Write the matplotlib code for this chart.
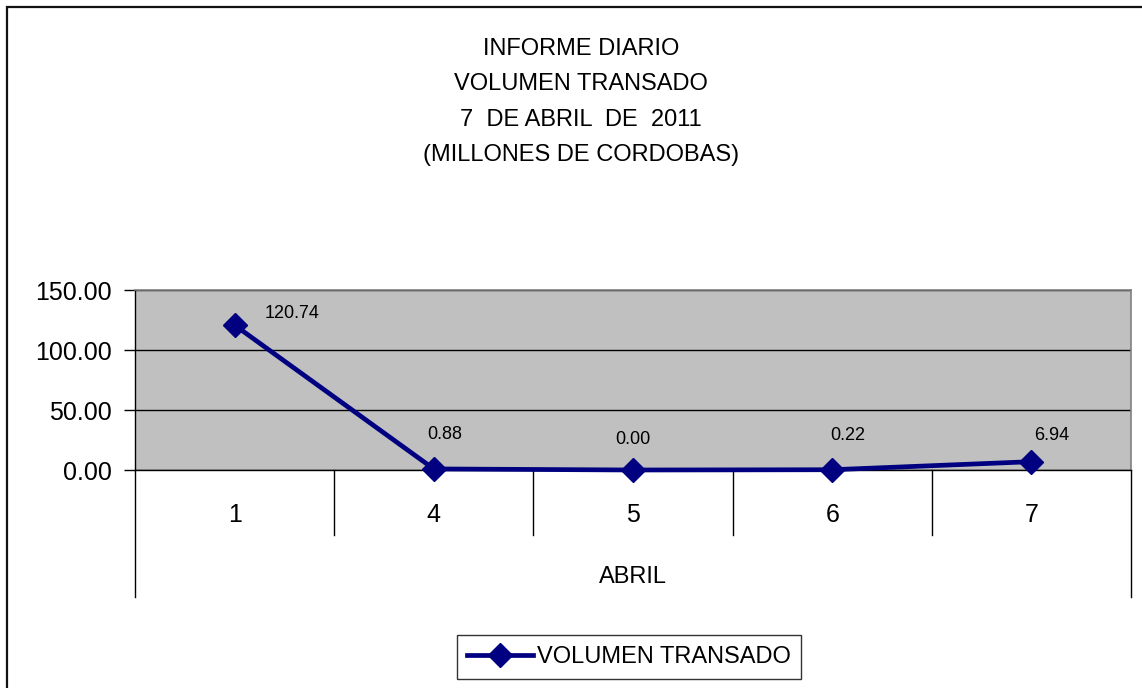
import matplotlib.pyplot as plt
import matplotlib.transforms as mtransforms
from matplotlib.patches import Rectangle

plt.rcParams['font.family'] = ['Liberation Sans', 'DejaVu Sans']

# data
dias = ['1', '4', '5', '6', '7']
volumen = [120.74, 0.88, 0.00, 0.22, 6.94]
mes = 'ABRIL'
serie = 'VOLUMEN TRANSADO'
titulo = 'INFORME DIARIO\nVOLUMEN TRANSADO\n7  DE ABRIL  DE  2011\n(MILLONES DE CORDOBAS)'
# pixel offsets of the value labels (as placed in the original)
label_offsets = [(57, 12), (11, 34), (0, 31), (16, 34), (20, 26)]

navy = '#000080'

fig = plt.figure(figsize=(11.42, 6.88), dpi=100)
fig.patch.set_facecolor('white')

# outer frame of the chart
fig.add_artist(Rectangle((7 / 1142, -0.05), 1.1, 1 - 7 / 688 + 0.05,
                         transform=fig.transFigure, fill=False,
                         edgecolor='#111111', linewidth=1.6))

ax = fig.add_axes([135 / 1142, 1 - 470 / 688, (1131 - 135) / 1142, 180 / 688])
ax.set_facecolor('#C0C0C0')

x = list(range(len(dias)))
ax.plot(x, volumen, color=navy, linewidth=3.4, marker='D', markersize=12,
        markerfacecolor=navy, markeredgecolor=navy, clip_on=False, zorder=5,
        label=serie)

for xi, v, off in zip(x, volumen, label_offsets):
    ax.annotate(f'{v:.2f}', (xi, v), xytext=off, textcoords='offset pixels',
                ha='center', va='center', fontsize=13, color='black',
                zorder=6)

ax.set_xlim(-0.5, len(dias) - 0.5)
ax.set_ylim(0, 150)
ax.set_yticks([0, 50, 100, 150])
ax.set_yticklabels([f'{t:.2f}' for t in [0, 50, 100, 150]], fontsize=18)
ax.tick_params(axis='y', direction='out', length=8, width=1, pad=9, color='black')
ax.set_xticks([])
ax.yaxis.grid(True, color='black', linewidth=1)
ax.set_axisbelow(True)

for s in ['top', 'right']:
    ax.spines[s].set_color('#808080')
    ax.spines[s].set_linewidth(1.2)
for s in ['left', 'bottom']:
    ax.spines[s].set_color('black')
    ax.spines[s].set_linewidth(1)

# category separators and labels below the axis
trans = mtransforms.blended_transform_factory(ax.transData, ax.transAxes)
n = len(dias)
for i in range(n + 1):
    xs = i - 0.5
    bottom = -0.706 if i in (0, n) else -0.361
    ax.plot([xs, xs], [0, bottom], color='black', linewidth=1,
            transform=trans, clip_on=False)
for xi, d in zip(x, dias):
    ax.text(xi, -0.25, d, transform=trans, ha='center', va='center', fontsize=18)
ax.text((n - 1) / 2, -0.594, mes, transform=trans, ha='center', va='center',
        fontsize=17)

fig.text(0.509, 1 - 102 / 688, titulo, ha='center', va='center', fontsize=17,
         linespacing=1.8)

leg = fig.legend(loc='center', bbox_to_anchor=(629 / 1142, 1 - 657 / 688),
                 fontsize=17, frameon=True, fancybox=False, handlelength=2.8,
                 handletextpad=0.15, borderpad=0.45, borderaxespad=0,
                 markerscale=1.0)
leg.get_frame().set_edgecolor('black')
leg.get_frame().set_linewidth(1)

fig.savefig('out.png', dpi=100)
